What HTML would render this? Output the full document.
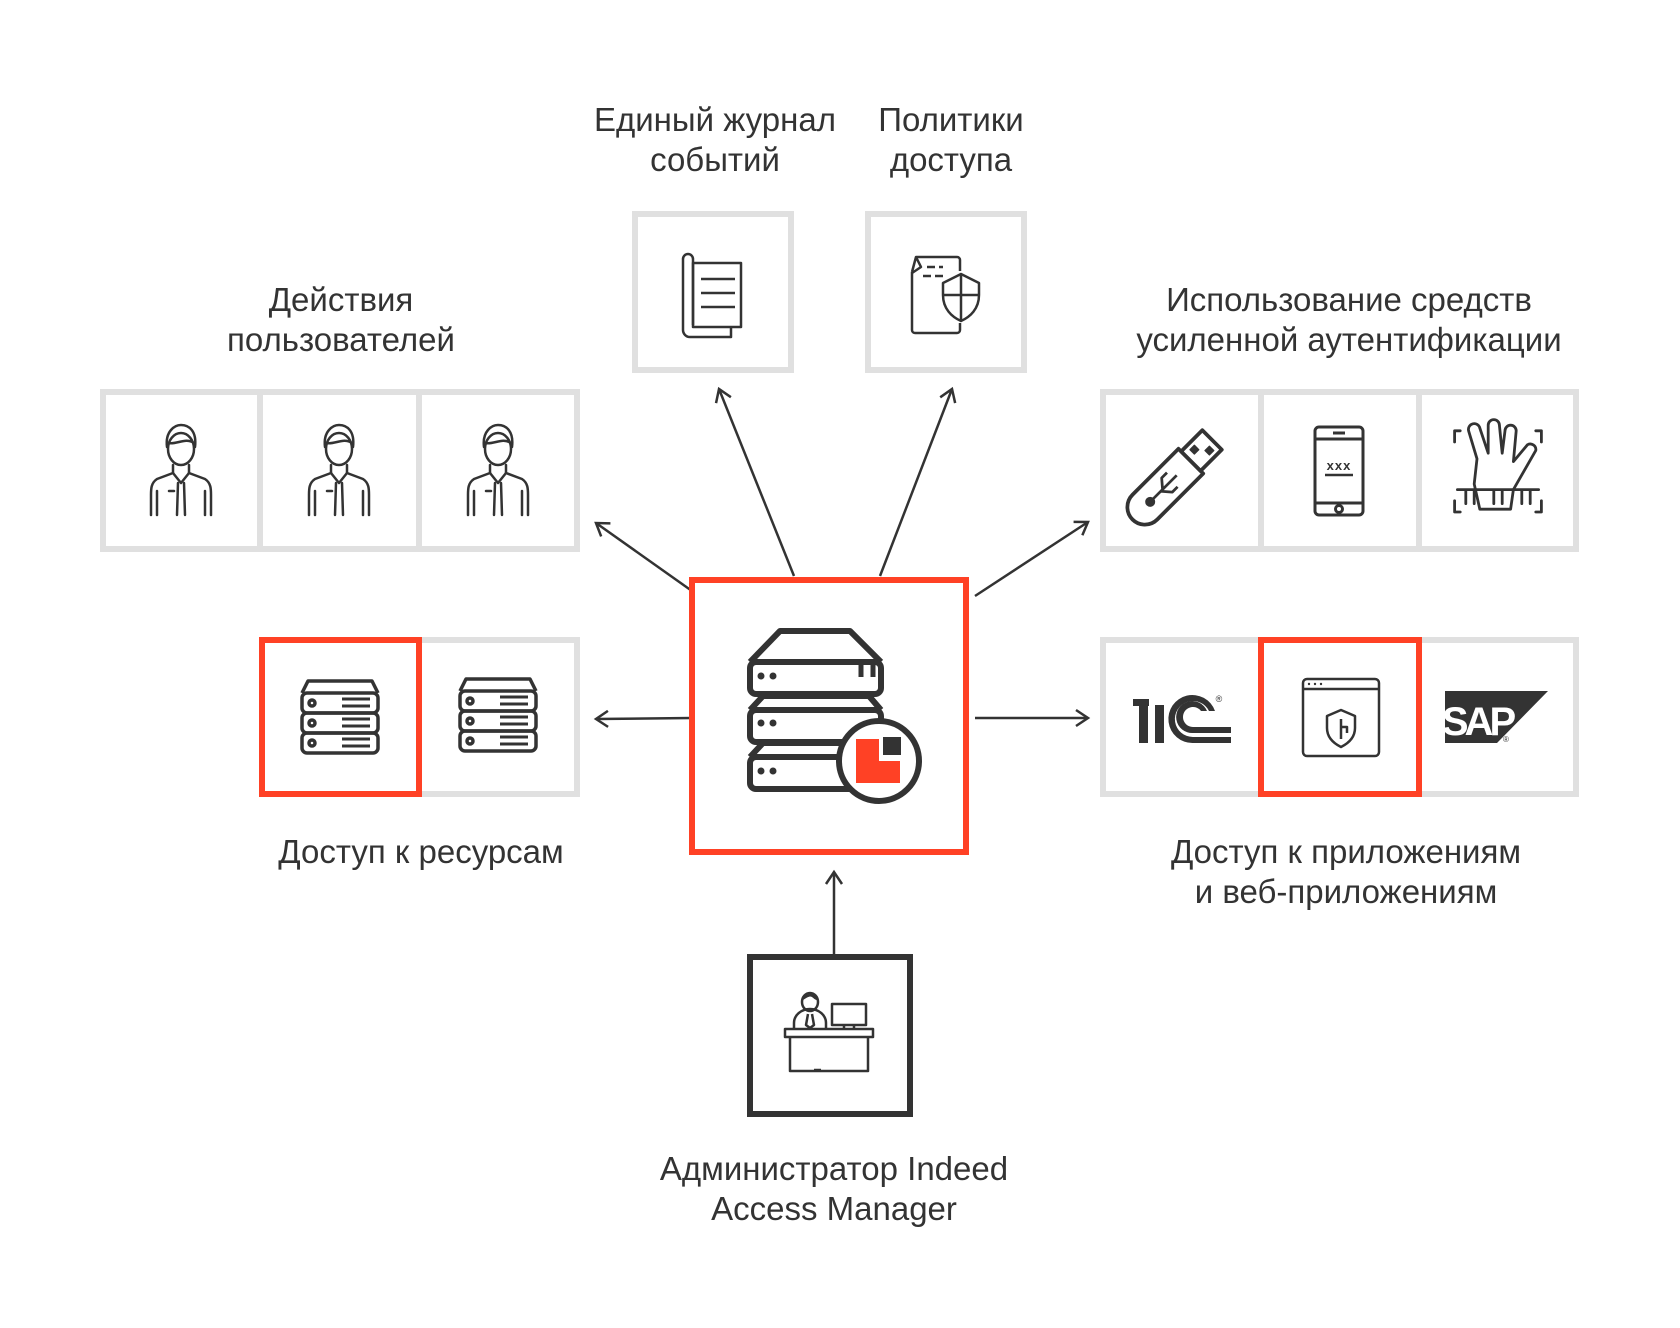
<!DOCTYPE html>
<html><head><meta charset="utf-8">
<style>
html,body{margin:0;padding:0;background:#fff;}
svg{display:block;}
text{font-family:"Liberation Sans",Arial,sans-serif;font-size:33px;fill:#333;text-anchor:middle;}
</style></head>
<body>
<svg width="1680" height="1328" viewBox="0 0 1680 1328" xmlns="http://www.w3.org/2000/svg">
<defs>
  <marker id="ah" markerWidth="20" markerHeight="20" refX="14" refY="10" orient="auto" markerUnits="userSpaceOnUse">
    <path d="M2,2 L14,10 L2,18" fill="none" stroke="#333" stroke-width="2.5"/>
  </marker>
  <g id="person" fill="none" stroke="#333" stroke-width="2.5" stroke-linecap="round" stroke-linejoin="round">
    <path d="M-14,-30 C-16,-46 -6,-52 0,-52 C8,-52 16,-46 14,-30"/>
    <ellipse cx="0" cy="-28" rx="13" ry="16" fill="#fff"/>
    <path d="M-13,-34 C-4,-32 4,-40 13,-34"/>
    <path d="M-8,-12 L-8,-4 M8,-12 L8,-4"/>
    <path d="M-8,-4 L0,6 L8,-4"/>
    <path d="M-8,-4 L-24,2 C-30,6 -30,12 -30,18 L-30,38 M8,-4 L24,2 C30,6 30,12 30,18 L30,38"/>
    <path d="M-24,14 L-24,38 M24,14 L24,38"/>
    <path d="M-3,6 L-4,38 M3,6 L4,38"/>
    <path d="M-12,14 L-7,14"/>
  </g>
  <g id="srv" fill="none" stroke="#333" stroke-width="3.5" stroke-linejoin="round">
    <path d="M-38,-26 L-32,-38 L32,-38 L38,-26"/>
    <rect x="-38" y="-26" width="76" height="20" rx="5"/>
    <rect x="-38" y="-6" width="76" height="20" rx="5"/>
    <rect x="-38" y="14" width="76" height="20" rx="5"/>
    <circle cx="-28" cy="-16" r="3"/><circle cx="-28" cy="4" r="3"/><circle cx="-28" cy="24" r="3"/>
    <path d="M2,-20 H30 M2,-13 H30 M2,0 H30 M2,7 H30 M2,20 H30 M2,27 H30" stroke-width="3"/>
  </g>
</defs>

<!-- labels -->
<text x="715" y="131">Единый журнал</text>
<text x="715" y="171">событий</text>
<text x="951" y="131">Политики</text>
<text x="951" y="171">доступа</text>
<text x="341" y="311">Действия</text>
<text x="341" y="351">пользователей</text>
<text x="1349" y="311">Использование средств</text>
<text x="1349" y="351">усиленной аутентификации</text>
<text x="421" y="863">Доступ к ресурсам</text>
<text x="1346" y="863">Доступ к приложениям</text>
<text x="1346" y="903">и веб-приложениям</text>
<text x="834" y="1180">Администратор Indeed</text>
<text x="834" y="1220">Access Manager</text>

<!-- connectors -->
<g stroke="#333" stroke-width="2.5" fill="none" marker-end="url(#ah)">
  <line x1="692" y1="591" x2="596" y2="523"/>
  <line x1="794" y1="576" x2="719" y2="389"/>
  <line x1="880" y1="576" x2="952" y2="389"/>
  <line x1="975" y1="596" x2="1088" y2="522"/>
  <line x1="692" y1="718" x2="596" y2="719"/>
  <line x1="975" y1="718" x2="1088" y2="718"/>
  <line x1="834" y1="955" x2="834" y2="872"/>
</g>

<!-- journal box -->
<g transform="translate(-3,-3)">
<rect x="638" y="217" width="156" height="156" fill="#fff" stroke="#e0e0e0" stroke-width="6"/>
<g fill="none" stroke="#333" stroke-width="2.5" stroke-linejoin="round">
  <path d="M686,262 V333 M686,262 a5,5 0 0 1 10,0 V328"/>
  <rect x="696" y="266" width="48" height="64"/>
  <path d="M704,282 H738 M704,296 H738 M704,310 H738"/>
  <path d="M686,333 a7,7 0 0 0 7,7 H734 V330"/>
</g>
</g>

<!-- policy box -->
<g transform="translate(-5,-3)">
<rect x="873" y="217" width="156" height="156" fill="#fff" stroke="#e0e0e0" stroke-width="6"/>
<g fill="none" stroke="#333" stroke-width="2.5" stroke-linejoin="round">
  <path d="M917,275 L921,260 H962 a3,3 0 0 1 3,3 V274"/>
  <path d="M917,275 V333 a3,3 0 0 0 3,3 H962 a3,3 0 0 0 3,-3 V326"/>
  <path d="M921,260 L926,270 L917,276"/>
  <path d="M932,270 H940 M944,270 H948 M928,279 H936 M940,279 H948"/>
  <path d="M966,277 L984,286 V298 C984,312 975,320 966,324 C957,320 948,312 948,298 V286 Z" fill="#fff"/>
  <path d="M966,277 V324 M948,298 H984"/>
</g>
</g>

<!-- users panel -->
<g transform="translate(-2,-3)">
<rect x="105" y="395" width="474" height="157" fill="#fff" stroke="#e0e0e0" stroke-width="6"/>
<line x1="262" y1="395" x2="262" y2="552" stroke="#e0e0e0" stroke-width="6"/>
<line x1="421" y1="395" x2="421" y2="552" stroke="#e0e0e0" stroke-width="6"/>
<use href="#person" x="183" y="480"/>
<use href="#person" x="341" y="480"/>
<use href="#person" x="500" y="480"/>
</g>

<!-- auth panel -->
<g transform="translate(-7,-3)">
<rect x="1110" y="395" width="473" height="157" fill="#fff" stroke="#e0e0e0" stroke-width="6"/>
<line x1="1268" y1="395" x2="1268" y2="552" stroke="#e0e0e0" stroke-width="6"/>
<line x1="1426" y1="395" x2="1426" y2="552" stroke="#e0e0e0" stroke-width="6"/>
<!-- usb -->
<g fill="none" stroke="#333" stroke-width="3" stroke-linejoin="round" transform="translate(1189,473) rotate(-45) scale(1.25)">
  <path d="M-42,-14 H10 V14 H-42 a14,14 0 0 1 0,-28 Z"/>
  <rect x="10" y="-11" width="24" height="22"/>
  <rect x="16" y="-7" width="5" height="5" fill="#333" stroke-width="1"/><rect x="24" y="2" width="5" height="5" fill="#333" stroke-width="1"/>
  <path d="M-34,0 H-6 M-22,0 L-16,-7 H-10 M-24,0 L-18,7 H-12" stroke-width="2.2"/>
  <circle cx="-36" cy="0" r="2.5" fill="#333"/>
</g>
<!-- phone -->
<g fill="none" stroke="#333" stroke-width="3" stroke-linejoin="round">
  <rect x="1322" y="430" width="48" height="88" rx="4"/>
  <path d="M1322,442 H1370 M1322,506 H1370 M1340,436 H1352"/>
  <circle cx="1346" cy="512" r="3.5"/>
  <path d="M1332,478 H1360" stroke-width="2.5"/>
</g>
<text x="1346" y="473" style="font-size:13px;font-weight:bold;letter-spacing:1px">xxx</text>
<!-- hand -->
<g fill="none" stroke="#333" stroke-width="2" stroke-linecap="round" stroke-linejoin="round" transform="translate(1505,473) scale(1.4) translate(-1483,-452)">
  <path d="M1468,444 L1462,424 a4,4 0 0 1 8,-2 L1476,440 L1476,420 a4,4 0 0 1 8,0 L1486,440 L1488,424 a4,4 0 0 1 8,0 L1494,446 L1504,434 a4,4 0 0 1 6,4 L1494,466 L1492,480 H1470 L1466,462 Z"/>
  <path d="M1454,466 H1512 M1460,466 V476 M1466,466 V476 M1480,466 V476 M1486,466 V476 M1500,466 V476 M1506,466 V476"/>
  <path d="M1456,424 H1452 V432 M1510,424 H1514 V432 M1452,474 V482 H1456 M1514,474 V482 H1510"/>
</g>
</g>

<!-- resources panel -->
<g transform="translate(-2,-3)">
<rect x="264" y="643" width="315" height="154" fill="#fff" stroke="#e0e0e0" stroke-width="6"/>
<rect x="264" y="643" width="157" height="154" fill="#fff" stroke="#ff4125" stroke-width="6"/>
<use href="#srv" x="342" y="722"/>
<use href="#srv" x="500" y="720"/>
</g>

<!-- apps panel -->
<g transform="translate(-7,-3)">
<rect x="1110" y="643" width="473" height="154" fill="#fff" stroke="#e0e0e0" stroke-width="6"/>
<rect x="1268" y="643" width="158" height="154" fill="#fff" stroke="#ff4125" stroke-width="6"/>
<!-- 1C -->
<g fill="#333">
  <rect x="1140" y="702" width="16" height="7"/>
  <rect x="1146" y="702" width="9" height="44"/>
  <path d="M1200,746 H1238 V740 H1200 a18,18 0 1 1 16,-26 h6 a24,24 0 1 0 -22,32 Z"/>
  <path d="M1200,736 H1238 V730 H1200 a10,10 0 1 1 8,-16 h6 a16,16 0 1 0 -14,22 Z"/>
  <rect x="1162" y="708" width="9" height="38"/>
</g>
<text x="1226" y="705" style="font-size:9px">®</text>
<!-- browser shield -->
<g fill="none" stroke="#333" stroke-width="2.5" stroke-linejoin="round">
  <rect x="1310" y="682" width="76" height="77" rx="4"/>
  <path d="M1310,692 H1386"/>
  <path d="M1348,713 L1362,719 V731 C1362,740 1356,746 1348,750 C1340,746 1334,740 1334,731 V719 Z"/>
  <path d="M1348,722 V742 M1348,730 H1354 V736"/>
</g>
<g fill="#333"><circle cx="1316" cy="687" r="1.2"/><circle cx="1322" cy="687" r="1.2"/><circle cx="1328" cy="687" r="1.2"/></g>
<!-- SAP -->
<path d="M1452,694 H1555 L1504,746 H1452 Z" fill="#333"/>
<text x="1484" y="738" style="font-size:40px;font-weight:bold;fill:#fff;letter-spacing:-4px">SAP</text>
<text x="1513" y="745" style="font-size:8px">®</text>
</g>

<!-- center box -->
<g transform="translate(-1,-3)">
<rect x="693" y="583" width="274" height="272" fill="#fff" stroke="#ff4125" stroke-width="6"/>
<g fill="none" stroke="#333" stroke-width="6" stroke-linejoin="round">
  <path d="M751,665 L781,634 H851 L882,665"/>
  <rect x="751" y="665" width="131" height="32" rx="6"/>
  <path d="M751,713 L764,699 H870 L882,713"/>
  <rect x="751" y="713" width="131" height="32" rx="6"/>
  <path d="M751,760 L764,746 H870 L882,760"/>
  <rect x="751" y="760" width="131" height="32" rx="6"/>
  <path d="M862,668 V680 M874,668 V680" stroke-width="5"/>
</g>
<g fill="#333">
  <circle cx="762" cy="679" r="3.5"/><circle cx="774" cy="679" r="3.5"/>
  <circle cx="762" cy="726" r="3.5"/><circle cx="774" cy="726" r="3.5"/>
  <circle cx="762" cy="774" r="3.5"/><circle cx="774" cy="774" r="3.5"/>
</g>
<circle cx="880" cy="764" r="40" fill="#fff" stroke="#333" stroke-width="6"/>
<path d="M857,742 H880 V764 H901 V786 H857 Z" fill="#ff4125"/>
<rect x="884" y="740" width="18" height="18" fill="#333"/>
</g>

<!-- admin box -->
<g transform="translate(-1,-4)">
<rect x="751" y="961" width="160" height="157" fill="#fff" stroke="#333" stroke-width="6"/>
<g fill="none" stroke="#333" stroke-width="2.5" stroke-linejoin="round">
  <ellipse cx="811" cy="1006" rx="8" ry="9"/>
  <path d="M803,1003 C807,1001 811,997 815,1001 C817,1003 819,1003 819,1003"/>
  <path d="M795,1033 V1027 a16,14 0 0 1 32,0 V1033"/>
  <path d="M809,1018 L807,1029 L811,1032 L815,1029 L813,1018"/>
  <rect x="833" y="1008" width="34" height="21"/>
  <path d="M845,1029 V1033 M855,1029 V1033"/>
  <rect x="786" y="1033" width="88" height="8"/>
  <path d="M791,1041 V1075 H869 V1041"/>
  <path d="M815,1074 H822"/>
</g>
</g>
</svg>
</body></html>
